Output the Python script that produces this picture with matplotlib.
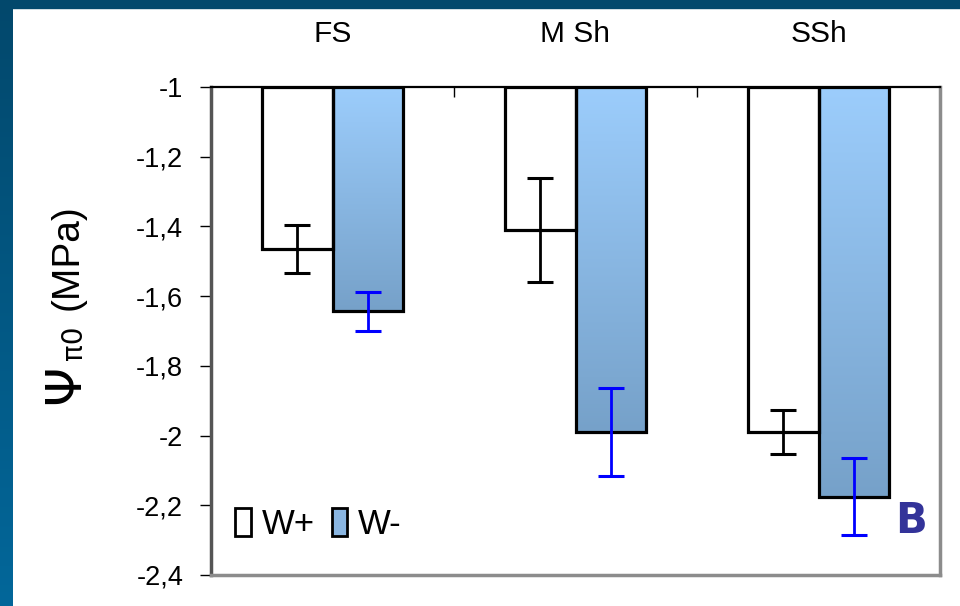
import numpy as np
import matplotlib
matplotlib.use("Agg")
import matplotlib.pyplot as plt
from matplotlib.patches import Rectangle
from matplotlib.colors import LinearSegmentedColormap

# ---- data ----
categories = ['FS', 'M Sh', 'SSh']
w_plus = [-1.466, -1.41, -1.99]
w_plus_err = [0.069, 0.148, 0.063]
w_minus = [-1.644, -1.99, -2.175]
w_minus_err = [0.057, 0.126, 0.11]
series_names = ['W+', 'W-']
y_ticks = [-1.0, -1.2, -1.4, -1.6, -1.8, -2.0, -2.2, -2.4]
y_tick_labels = ['-1', '-1,2', '-1,4', '-1,6', '-1,8', '-2', '-2,2', '-2,4']
baseline = -1.0

plt.rcParams['font.family'] = ['Liberation Sans', 'DejaVu Sans']

fig = plt.figure(figsize=(9.6, 6.06), dpi=100)
fig.patch.set_facecolor('white')

# frame (slide background)
bg = fig.add_axes([0, 0, 13 / 960, 1])
grad = np.linspace(0, 1, 256).reshape(-1, 1)
frame_cmap = LinearSegmentedColormap.from_list('fr', ['#02486c', '#03679a'])
bg.imshow(grad, aspect='auto', cmap=frame_cmap, extent=[0, 1, 0, 1], origin='upper')
bg.set_axis_off()
fig.add_artist(Rectangle((0, 1 - 8 / 606), 1, 8 / 606, transform=fig.transFigure,
                         color='#02486c', zorder=0))

ax = fig.add_axes([211 / 960, 1 - 575 / 606, (940 - 211) / 960, (575 - 87) / 606])
x = np.arange(len(categories))
w = 0.29

bp = ax.bar(x - w / 2, np.array(w_plus) - baseline, width=w, bottom=baseline,
            facecolor='white', edgecolor='black', linewidth=2.3, zorder=2)
bm = ax.bar(x + w / 2, np.array(w_minus) - baseline, width=w, bottom=baseline,
            facecolor='none', edgecolor='black', linewidth=2.3, zorder=3)

bar_cmap = LinearSegmentedColormap.from_list('bar', ['#9ccdfc', '#76a1c9'])
for r in bm:
    x0, y0 = r.get_x(), r.get_y()
    wd, ht = r.get_width(), r.get_height()
    ax.imshow(grad, aspect='auto', cmap=bar_cmap, origin='upper',
              extent=[x0, x0 + wd, y0 + ht, y0], zorder=1)

ax.errorbar(x - w / 2, w_plus, yerr=w_plus_err, fmt='none', ecolor='black',
            elinewidth=2.0, capsize=9.5, capthick=2.2, zorder=4)
ax.errorbar(x + w / 2, w_minus, yerr=w_minus_err, fmt='none', ecolor='#0000ff',
            elinewidth=2.0, capsize=9.5, capthick=2.2, zorder=4)

ax.set_xlim(-0.5, 2.5)
ax.set_ylim(-2.4, -1.0)

# axes styling
for s in ax.spines.values():
    s.set_color('#8c8c8c')
    s.set_linewidth(2.5)
ax.spines['left'].set_color('#555555')
ax.spines['top'].set_color('black')
ax.spines['top'].set_linewidth(1.6)

ax.set_yticks(y_ticks)
ax.set_yticklabels(y_tick_labels, fontsize=19.5)
ax.tick_params(axis='y', direction='out', length=8, width=1, pad=12, colors='black')

ax.xaxis.tick_top()
ax.set_xticks(x)
ax.set_xticklabels(categories, fontsize=21.5)
ax.set_xticks([0.5, 1.5], minor=True)
ax.tick_params(axis='x', which='major', length=0, pad=28)
ax.tick_params(axis='x', which='minor', direction='in', length=7, width=1, top=True, bottom=False)

# y label: Psi with subscript pi0
fig.text(65 / 960, 1 - 384 / 606, 'Ψ', rotation=90, fontsize=36, ha='center', va='center',
         family='DejaVu Sans')
fig.text(74 / 960, 1 - 343 / 606, 'π0', rotation=90, fontsize=20, ha='center', va='center',
         family='DejaVu Sans')
fig.text(68 / 960, 1 - 257 / 606, '(MPa)', rotation=90, fontsize=28, ha='center',
         va='center')

# legend
h1 = Rectangle((0, 0), 1, 1, facecolor='white', edgecolor='black', linewidth=2)
h2 = Rectangle((0, 0), 1, 1, facecolor='#8ab6e2', edgecolor='black', linewidth=2)
ax.legend([h1, h2], series_names, loc='lower left', bbox_to_anchor=(0.0, 0.02),
          ncol=2, frameon=False, fontsize=25, handlelength=0.45, handleheight=0.85,
          handletextpad=0.3, columnspacing=0.5, borderaxespad=0.3)

ax.text(0.96, 0.11, 'B', transform=ax.transAxes, fontsize=30, fontweight='bold',
        color='#333399', ha='center', va='center', family='DejaVu Sans')

fig.savefig('out.png', dpi=100)
